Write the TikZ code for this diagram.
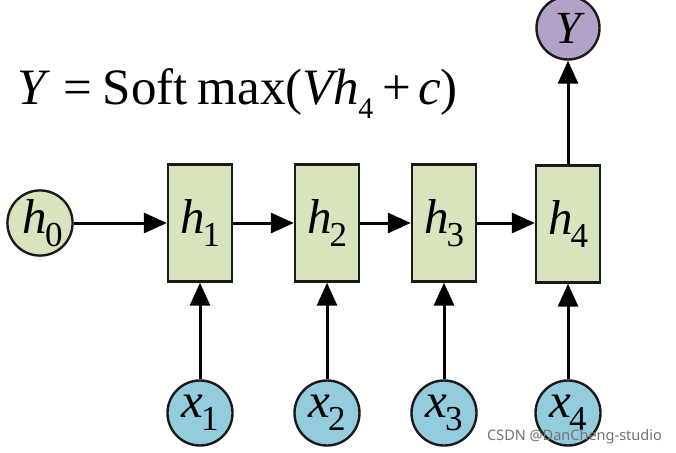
\documentclass[tikz,border=0pt]{standalone}
\usepackage{fontspec}
\setmainfont{Liberation Serif}
\newfontfamily\wmfont{Noto Sans}
\usetikzlibrary{arrows.meta}
\definecolor{boxgreen}{HTML}{D7E4BD}
\definecolor{xblue}{HTML}{93CDDD}
\definecolor{ypurple}{HTML}{B3A2C7}
\definecolor{edgec}{HTML}{1A1A1A}
\newcommand{\biglab}[2]{{\fontsize{49}{49}\selectfont\itshape #1}\kern-2pt\raisebox{-13pt}{\fontsize{35}{35}\selectfont #2}}
\tikzset{
  hbox/.style={draw=edgec, line width=2.4pt, fill=boxgreen, minimum width=64pt, minimum height=117pt, inner sep=0pt},
  vcirc/.style={draw=edgec, line width=2.4pt, circle, minimum size=65pt, inner sep=0pt},
  conn/.style={line width=3pt, draw=black, -{Triangle[length=23pt,width=20pt]}}
}
\begin{document}
\begin{tikzpicture}[x=1pt,y=-1pt]
\useasboundingbox[fill=white] (0,0) rectangle (676,452);
% formula
\node[anchor=base west, inner sep=0pt, font=\fontsize{51}{51}\selectfont] (formula) at (17,104)
  {\textit{Y}\hspace{13pt}=\hspace{11pt}Soft\hspace{10pt}max(\textit{Vh}\kern-1pt\raisebox{-14pt}{\fontsize{30}{30}\selectfont 4}\hspace{9pt}+\hspace{7pt}\textit{c})};
% hidden state boxes
\node[hbox] (h1) at (200,223) {\biglab{h}{1}};
\node[hbox] (h2) at (327,223) {\biglab{h}{2}};
\node[hbox] (h3) at (444,223) {\biglab{h}{3}};
\node[hbox] (h4) at (568,224) {\biglab{h}{4}};
% circles
\node[vcirc, fill=boxgreen] (h0) at (40,223) {\hspace*{5pt}\biglab{h}{0}};
\node[vcirc, fill=ypurple, minimum size=63pt] (Y) at (568,28) {{\fontsize{46}{46}\selectfont\itshape Y}};
\node[vcirc, fill=xblue] (x1) at (200,413) {\biglab{x}{1}};
\node[vcirc, fill=xblue] (x2) at (327,413) {\biglab{x}{2}};
\node[vcirc, fill=xblue] (x3) at (444,413) {\biglab{x}{3}};
\node[vcirc, fill=xblue] (x4) at (568,413) {\biglab{x}{4}};
% connectors
\draw[conn] (h0) -- (h1);
\draw[conn] (h1) -- (h2);
\draw[conn] (h2) -- (h3);
\draw[conn] (h3) -- (h4.west |- h3);
\draw[conn] (h4) -- (Y);
\draw[conn] (x1) -- (h1);
\draw[conn] (x2) -- (h2);
\draw[conn] (x3) -- (h3);
\draw[conn] (x4) -- (h4);
% watermark
\node[anchor=base west, inner sep=0pt, text=black!55, font=\wmfont\fontsize{14.5}{14.5}\selectfont] (wm) at (487,440) {CSDN @DanCheng-studio};
\end{tikzpicture}
\end{document}
